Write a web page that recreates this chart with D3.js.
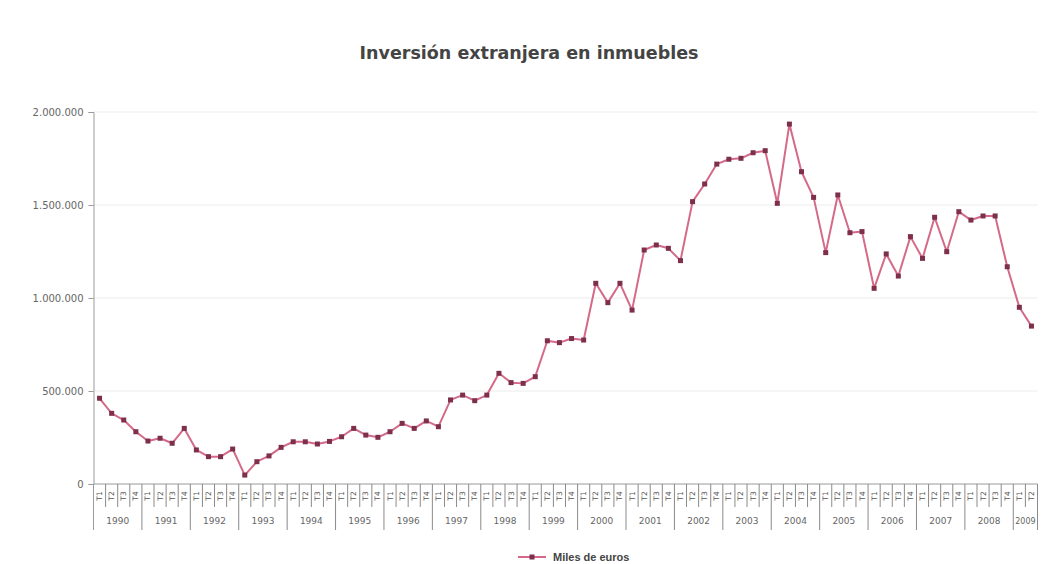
<!DOCTYPE html>
<html>
<head>
<meta charset="utf-8">
<script src="https://cdn.jsdelivr.net/npm/d3@7"></script>
<style>
  html, body { margin: 0; padding: 0; background: #fff; }
  svg { display: block; }
</style>
</head>
<body>
<svg id="chart" width="1044" height="564"></svg>
<script>
const title = "Inversión extranjera en inmuebles";
const seriesName = "Miles de euros";
const years = [1990,1991,1992,1993,1994,1995,1996,1997,1998,1999,2000,2001,2002,2003,2004,2005,2006,2007,2008,2009];
const quarterNames = ["T1","T2","T3","T4"];
const values = [
  461000, 380000, 344000, 281000,
  231000, 246000, 219000, 299000,
  183000, 147000, 147000, 188000,
   48000, 120000, 151000, 197000,
  227000, 227000, 215000, 229000,
  254000, 299000, 263000, 251000,
  281000, 326000, 299000, 339000,
  308000, 452000, 478000, 448000,
  478000, 595000, 545000, 541000,
  577000, 770000, 760000, 782000,
  774000, 1079000, 975000, 1079000,
  935000, 1258000, 1285000, 1267000,
  1201000, 1518000, 1613000, 1720000,
  1746000, 1751000, 1781000, 1792000,
  1509000, 1935000, 1679000, 1541000,
  1244000, 1554000, 1351000, 1357000,
  1052000, 1237000, 1118000, 1330000,
  1213000, 1434000, 1249000, 1464000,
  1419000, 1441000, 1441000, 1168000,
  950000, 849000
];
const yTicks = [0, 500000, 1000000, 1500000, 2000000];

(function () {
const categories = values.map((v, i) => ({
  year: years[Math.floor(i / 4)],
  quarter: quarterNames[i % 4],
  value: v,
  i: i
}));

const svg = d3.select("#chart");
const W = 1044, H = 564;
const pLeft = 93.5, pRight = 1037.5, pTop = 112, pBottom = 484;

const x = d3.scaleBand().domain(categories.map(d => d.i)).range([pLeft, pRight]).padding(0);
const y = d3.scaleLinear().domain([0, 2000000]).range([pBottom, pTop]);

const es = d3.formatLocale({decimal: ",", thousands: ".", grouping: [3], currency: ["", " €"]});
const fmt = es.format(",.0f");

svg.append("rect").attr("width", W).attr("height", H).attr("fill", "#fff");

// Title
svg.append("text")
  .attr("x", 529).attr("y", 59)
  .attr("text-anchor", "middle")
  .attr("font-family", "DejaVu Sans, sans-serif")
  .attr("font-weight", "bold")
  .attr("font-size", 17.5)
  .attr("fill", "#444")
  .text(title);

// Gridlines
svg.append("g").selectAll("line")
  .data(yTicks.filter(t => t > 0))
  .join("line")
  .attr("x1", pLeft).attr("x2", pRight)
  .attr("y1", d => y(d)).attr("y2", d => y(d))
  .attr("stroke", "#ececec").attr("stroke-width", 1);

// Y axis
const yAxis = svg.append("g")
  .attr("transform", `translate(${pLeft},0)`)
  .call(d3.axisLeft(y).tickValues(yTicks).tickFormat(fmt).tickSize(5).tickPadding(5));
yAxis.select(".domain").attr("stroke", "#9a9a9a");
yAxis.selectAll(".tick line").attr("stroke", "#9a9a9a");
yAxis.selectAll(".tick text")
  .attr("font-family", "DejaVu Sans, sans-serif")
  .attr("font-size", 10)
  .attr("fill", "#666");

svg.append("line")
  .attr("x1", pLeft).attr("x2", pLeft)
  .attr("y1", pBottom).attr("y2", pBottom + 46)
  .attr("stroke", "#9a9a9a");

svg.append("line")
  .attr("x1", pLeft).attr("x2", pRight)
  .attr("y1", pBottom).attr("y2", pBottom)
  .attr("stroke", "#9a9a9a");

const xg = svg.append("g");
xg.selectAll("line.q")
  .data(categories.slice(1))
  .join("line")
  .attr("class", "q")
  .attr("x1", d => x(d.i)).attr("x2", d => x(d.i))
  .attr("y1", pBottom).attr("y2", d => d.i % 4 === 0 ? pBottom + 46 : pBottom + 23)
  .attr("stroke", "#8a8a8a");
svg.append("line")
  .attr("x1", pRight).attr("x2", pRight)
  .attr("y1", pBottom).attr("y2", pBottom + 46)
  .attr("stroke", "#8a8a8a");

// quarter labels (rotated)
xg.selectAll("text.q")
  .data(categories)
  .join("text")
  .attr("class", "q")
  .attr("transform", d => `translate(${x(d.i) + x.bandwidth() / 2 + 2.5},${pBottom + 12}) rotate(-90)`)
  .attr("text-anchor", "middle")
  .attr("font-family", "DejaVu Sans, sans-serif")
  .attr("font-size", 7.5)
  .attr("fill", "#555")
  .text(d => d.quarter);

// year labels
const yearGroups = d3.groups(categories, d => d.year);
xg.selectAll("text.y")
  .data(yearGroups)
  .join("text")
  .attr("class", "y")
  .attr("x", d => (x(d[1][0].i) + x(d[1][d[1].length - 1].i) + x.bandwidth()) / 2)
  .attr("y", pBottom + 40)
  .attr("text-anchor", "middle")
  .attr("font-family", "DejaVu Sans, sans-serif")
  .attr("font-size", d => d[1].length < 4 ? 8 : 9)
  .attr("fill", "#666")
  .text(d => d[0]);

// Series line
const lineColor = "#d46a88";
const markerColor = "#7d2f4c";
const line = d3.line()
  .x(d => x(d.i) + x.bandwidth() / 2)
  .y(d => y(d.value));
svg.append("path")
  .datum(categories)
  .attr("fill", "none")
  .attr("stroke", lineColor)
  .attr("stroke-width", 2)
  .attr("stroke-linejoin", "round")
  .attr("d", line);

svg.append("g").selectAll("rect")
  .data(categories)
  .join("rect")
  .attr("x", d => x(d.i) + x.bandwidth() / 2 - 2.5)
  .attr("y", d => y(d.value) - 2.5)
  .attr("width", 5).attr("height", 5)
  .attr("fill", markerColor);

// Legend
const lg = svg.append("g").attr("transform", "translate(518,557)");
lg.append("line").attr("x1", 0).attr("x2", 28).attr("y1", 0).attr("y2", 0)
  .attr("stroke", lineColor).attr("stroke-width", 2);
lg.append("rect").attr("x", 11.5).attr("y", -2.5).attr("width", 5).attr("height", 5).attr("fill", markerColor);
lg.append("text").attr("x", 35).attr("y", 4)
  .attr("font-family", "Liberation Sans, Arial, sans-serif")
  .attr("font-weight", "bold")
  .attr("font-size", 11)
  .attr("fill", "#444")
  .text(seriesName);
})();
</script>
</body>
</html>
